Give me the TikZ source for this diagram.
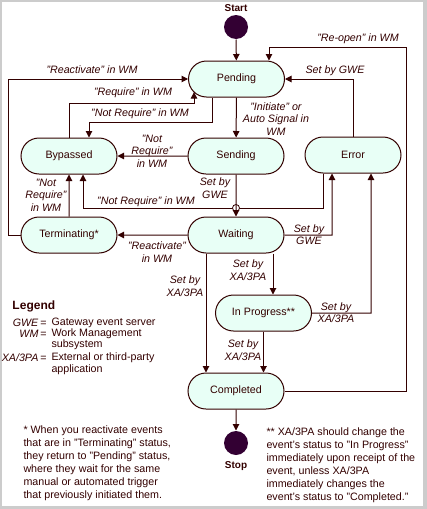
\documentclass[tikz,border=0pt]{standalone}
\usepackage{fontspec}
\setmainfont{Liberation Sans}
\usetikzlibrary{arrows.meta,shapes.misc}
\definecolor{ink}{HTML}{330000}
\definecolor{statefill}{HTML}{E8FFF6}
\definecolor{dotfill}{HTML}{330033}
\definecolor{framegray}{HTML}{CCCCCC}
\begin{document}
\begin{tikzpicture}[line width=1pt,color=ink,>={Triangle[width=6.5pt,length=6.5pt]},x=1pt,y=-1pt,
	every node/.style={text=ink,font=\fontsize{10.7}{13}\selectfont},
	state/.style={rounded rectangle,draw=ink,fill=statefill,minimum width=96,minimum height=36,inner sep=0pt},
	dot/.style={circle,fill=dotfill,minimum size=24,inner sep=0pt},
	lbl/.style={align=center,font=\fontsize{10.7}{12.5}\selectfont\itshape},
	hdr/.style={font=\fontsize{10}{12}\selectfont\bfseries}]
	\fill[framegray] (0,0) rectangle (427,509);
	\fill[white] (2,2) rectangle (423,506);
	\useasboundingbox (0,0) rectangle (427,509);
	\node[hdr] (startlbl) at (236,8) {Start};
	\node[dot] (start) at (236,27) {};
	\node[state] (pend) at (236.5,79) {Pending};
	\node[state] (send) at (236,156) {Sending};
	\node[state] (err) at (353,155) {Error};
	\node[state] (byp) at (69,156) {Bypassed};
	\node[state] (term) at (69,235) {Terminating*};
	\node[state] (wait) at (236,235) {Waiting};
	\node[state] (prog) at (263.5,313) {In Progress**};
	\node[state] (comp) at (236,391) {Completed};
	\node[dot] (stop) at (236,443) {};
	\node[hdr] (stoplbl) at (236,466) {Stop};
	\coordinate (rt) at (8,235);
	\coordinate (rq) at (194,103);
	\coordinate (nq) at (212,122);
	\coordinate (nqb) at (89,122);
	\coordinate (ne) at (323,208);
	\coordinate (neb) at (83,208);
	\coordinate (ge) at (332,235);
	\coordinate (xe) at (371,313);
	\coordinate (wp) at (273,270);
	\coordinate (wc) at (206,300);
	\coordinate (ro) at (406,47);
	\coordinate (rop) at (269,47);
	\draw[->] (start) -- (pend);
	\draw[->] (pend) -- (send);
	\draw[->] (send) -- (byp);
	\draw[->] (wait) -- (term);
	\draw[->] (term) -- (byp);
	\draw[->] (err) |- (pend);
	\draw[->] (term) -- (rt) |- (pend);
	\draw[->] (byp) |- (rq) -- (rq |- pend.197);
	\draw[->] (nq |- pend.south) -- (nq) -- (nqb) -- (nqb |- byp.north);
	\draw[->] (ne |- err.south) -- (ne) -- (neb) -- (neb |- byp.south);
	\node[circle,draw=ink,fill=white,line width=.8pt,minimum size=7,inner sep=0pt] (hop) at (send.south |- ne) {};
	\draw[->] (send) -- (wait);
	\draw[->] (wait) -- (ge) -- (ge |- err.south);
	\draw[->] (prog) -- (xe) -- (xe |- err.south);
	\draw[->] (wp |- wait.south) -- (wp |- prog.north);
	\draw[->] (wc |- wait.south) -- (wc |- comp.north);
	\draw[->] (prog.south) -- (prog.south |- comp.north);
	\draw[->] (comp) -- (stop);
	\draw[->] (comp) -| (ro) -- (rop) -- (rop |- pend.north);
	\node[lbl] (lreopen) at (358,39) {"Re-open" in WM};
	\node[lbl] (lgwe1) at (335,71) {Set by GWE};
	\node[lbl] (linit) at (276,119) {"Initiate" or\\Auto Signal in\\WM};
	\node[lbl] (lreact1) at (92,70) {"Reactivate" in WM};
	\node[lbl] (lreq) at (133,93) {"Require" in WM};
	\node[lbl] (lnreq1) at (140,114) {"Not Require" in WM};
	\node[lbl] (lnreq2) at (152,151) {"Not\\Require"\\in WM};
	\node[lbl] (lgwe2) at (215,188) {Set by\\GWE};
	\node[lbl] (lnreq3) at (146,202) {"Not Require" in WM};
	\node[lbl] (lnreq4) at (46,195) {"Not\\Require"\\in WM};
	\node[lbl] (lreact2) at (157,252) {"Reactivate"\\in WM};
	\node[lbl] (lgwe3) at (309,234.5) {Set by\\GWE};
	\node[lbl] (lxa1) at (248,270) {Set by\\XA/3PA};
	\node[lbl] (lxa2) at (185,286) {Set by\\XA/3PA};
	\node[lbl] (lxa3) at (243,350) {Set by\\XA/3PA};
	\node[lbl] (lxa4) at (336,312.5) {Set by\\XA/3PA};
	\node[font=\fontsize{12}{14}\selectfont\bfseries,anchor=west,inner sep=0pt] (legend) at (12,306) {Legend};
	\node[anchor=east,inner sep=0pt] (lggwe) at (47,323) {\textit{GWE}\,=};
	\node[anchor=west,inner sep=0pt] (lggwed) at (51,323) {Gateway event server};
	\node[anchor=east,inner sep=0pt] (lgwm) at (47,334) {\textit{WM}\,=};
	\node[anchor=west,inner sep=0pt] (lgwmd) at (51,334) {Work Management};
	\node[anchor=west,inner sep=0pt] (lgwmd2) at (51,345) {subsystem};
	\node[anchor=east,inner sep=0pt] (lgxa) at (47,358) {\textit{XA/3PA}\,=};
	\node[anchor=west,inner sep=0pt] (lgxad) at (51,358) {External or third-party};
	\node[anchor=west,inner sep=0pt] (lgxad2) at (51,370) {application};
	\node[anchor=north west,align=left,inner sep=0pt] (note1) at (23,425) {* When you reactivate events\\that are in "Terminating" status,\\they return to "Pending" status,\\where they wait for the same\\manual or automated trigger\\that previously initiated them.};
	\node[anchor=north west,align=left,inner sep=0pt] (note2) at (266,427) {** XA/3PA should change the\\event's status to "In Progress"\\immediately upon receipt of the\\event, unless XA/3PA\\immediately changes the\\event's status to "Completed."};
\end{tikzpicture}
\end{document}
